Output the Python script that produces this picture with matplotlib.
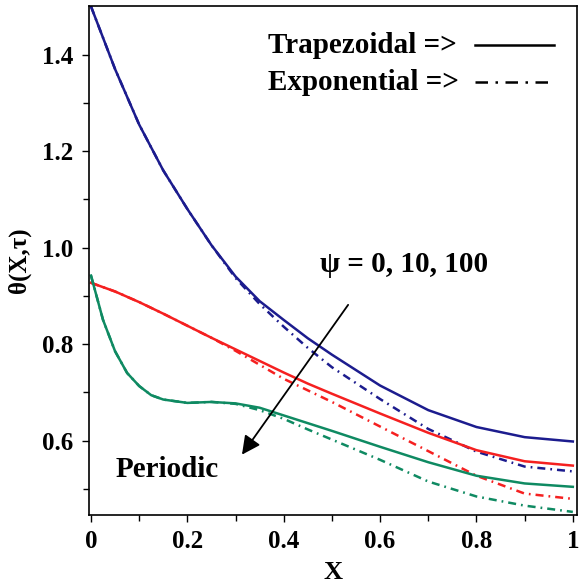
import numpy as np
import matplotlib.pyplot as plt

# values
# psi = 0
x_b  = [0, 0.05, 0.1, 0.15, 0.2, 0.25, 0.3, 0.35, 0.4, 0.45, 0.5, 0.6, 0.7, 0.8, 0.9, 1.0]
trap_b = [1.50, 1.37, 1.255, 1.16, 1.08, 1.005, 0.94, 0.889, 0.85, 0.812, 0.778, 0.714, 0.663, 0.628, 0.607, 0.598]
exp_b  = [1.50, 1.37, 1.255, 1.16, 1.08, 1.005, 0.937, 0.883, 0.836, 0.792, 0.752, 0.686, 0.624, 0.577, 0.546, 0.536]
# psi = 10
x_r  = [0, 0.05, 0.1, 0.15, 0.2, 0.25, 0.3, 0.35, 0.4, 0.45, 0.5, 0.6, 0.7, 0.8, 0.9, 1.0]
trap_r = [0.927, 0.909, 0.887, 0.863, 0.838, 0.813, 0.789, 0.765, 0.741, 0.718, 0.697, 0.656, 0.616, 0.580, 0.557, 0.548]
exp_r  = [0.927, 0.909, 0.887, 0.863, 0.838, 0.813, 0.786, 0.757, 0.728, 0.704, 0.680, 0.629, 0.578, 0.527, 0.490, 0.479]
# psi = 100
x_g  = [0, 0.025, 0.05, 0.075, 0.1, 0.125, 0.15, 0.2, 0.25, 0.3, 0.35, 0.4, 0.45, 0.5, 0.6, 0.7, 0.8, 0.9, 1.0]
trap_g = [0.942, 0.85, 0.785, 0.74, 0.713, 0.694, 0.685, 0.678, 0.68, 0.677, 0.668, 0.652, 0.636, 0.62, 0.587, 0.555, 0.527, 0.511, 0.504]
exp_g  = [0.942, 0.85, 0.785, 0.74, 0.713, 0.694, 0.685, 0.678, 0.68, 0.676, 0.663, 0.645, 0.623, 0.602, 0.56, 0.515, 0.484, 0.465, 0.452]

col_b = '#1c1c8e'
col_r = '#f52020'
col_g = '#0f8a62'
dd = (0, (3.2, 2.0, 0.7, 2.0))

plt.rcParams['font.family'] = ['Liberation Serif', 'DejaVu Serif']
plt.rcParams['font.weight'] = 'bold'

fig = plt.figure(figsize=(5.79, 5.87), dpi=100)
ax = fig.add_axes([0.153, 0.123, 0.843, 0.866])

ax.plot(x_b, trap_b, color=col_b, lw=1.8)
ax.plot(x_b, exp_b, color=col_b, lw=1.8, linestyle=dd)
ax.plot(x_r, trap_r, color=col_r, lw=1.8)
ax.plot(x_r, exp_r, color=col_r, lw=1.8, linestyle=dd)
ax.plot(x_g, trap_g, color=col_g, lw=1.8)
ax.plot(x_g, exp_g, color=col_g, lw=1.8, linestyle=dd)

ax.set_xlim(-0.005, 1.008)
ax.set_ylim(0.446, 1.5)
ax.set_xticks([0, 0.2, 0.4, 0.6, 0.8, 1])
ax.set_xticklabels(['0', '0.2', '0.4', '0.6', '0.8', '1'])
ax.set_yticks([0.6, 0.8, 1.0, 1.2, 1.4])
ax.set_yticklabels(['0.6', '0.8', '1.0', '1.2', '1.4'])
ax.set_xticks(np.arange(0.1, 1.0, 0.2), minor=True)
ax.set_yticks([0.5, 0.7, 0.9, 1.1, 1.3], minor=True)
ax.tick_params(which='major', length=5, width=1, labelsize=18, pad=6)
ax.tick_params(which='minor', length=4, width=1)
for lab in ax.get_xticklabels() + ax.get_yticklabels():
    lab.set_fontweight('bold')
for s in ax.spines.values():
    s.set_linewidth(1.2)

ax.set_xlabel('X', fontsize=19, fontweight='bold', labelpad=6)
ax.set_ylabel('θ(X,τ)', fontsize=18, fontweight='bold', labelpad=8)

# legend drawn as text + lines
ax.text(0.368, 1.419, 'Trapezoidal =>', fontsize=21, fontweight='bold', va='center')
ax.text(0.368, 1.342, 'Exponential =>', fontsize=21, fontweight='bold', va='center')
ax.plot([0.798, 0.961], [1.421, 1.421], color='black', lw=1.8)
ax.plot([0.798, 0.961], [1.344, 1.344], color='black', lw=1.8, linestyle=(0, (5, 3, 1, 3)))

ax.text(0.475, 0.965, 'ψ = 0, 10, 100', fontsize=21, fontweight='bold', va='center')
ax.text(0.05, 0.54, 'Periodic', fontsize=21, fontweight='bold', va='center')
ax.annotate('', xy=(0.31, 0.566), xytext=(0.537, 0.886),
            arrowprops=dict(arrowstyle='-|>', color='black', lw=1.3, mutation_scale=28))

fig.savefig('out.png', dpi=100)
